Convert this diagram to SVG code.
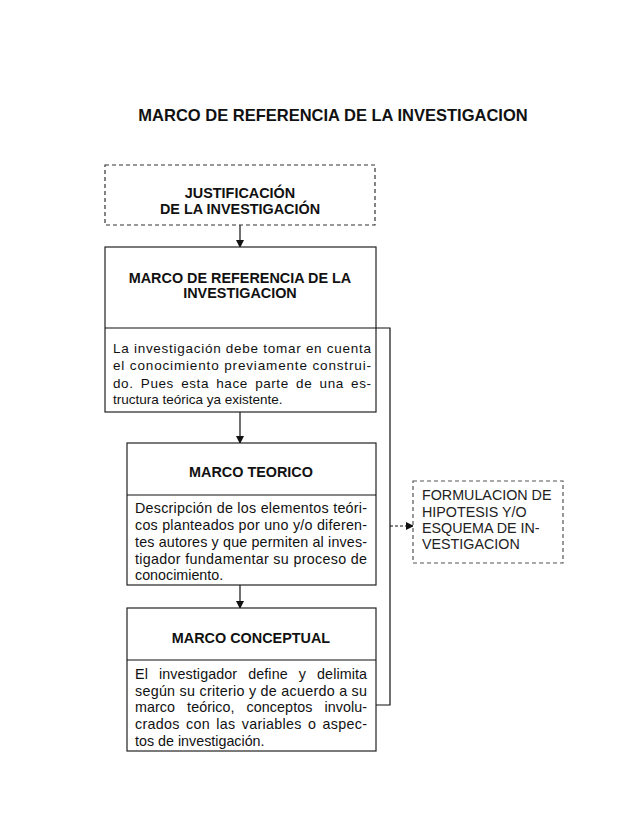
<svg xmlns="http://www.w3.org/2000/svg" width="638" height="826" viewBox="0 0 638 826">
<style>
.box{fill:#fff;stroke:#222;stroke-width:1.2}
.dash{fill:#fff;stroke:#333;stroke-width:1.2;stroke-dasharray:4 3}
.dash2{fill:#fff;stroke:#555;stroke-width:1.2;stroke-dasharray:4 3}
.h{font-family:"Liberation Sans",Arial,sans-serif;font-weight:bold;font-size:14.4px;fill:#111;text-anchor:middle}
.b{font-family:"Liberation Sans",Arial,sans-serif;font-size:13.5px;fill:#111}
.b2{font-family:"Liberation Sans",Arial,sans-serif;font-size:14.3px;fill:#111}
.f{font-family:"Liberation Sans",Arial,sans-serif;font-size:14.3px;fill:#222}
.t{font-family:"Liberation Sans",Arial,sans-serif;font-weight:bold;font-size:16.5px;fill:#111;text-anchor:middle}
.c{fill:none;stroke:#111;stroke-width:1.2}
</style>
<defs>
<marker id="ah" markerWidth="8" markerHeight="8" refX="7" refY="4" orient="auto" markerUnits="userSpaceOnUse">
<path d="M0,0 L8,4 L0,8 Z" fill="#111"/>
</marker>
</defs>
<rect width="638" height="826" fill="#fff"/>
<text class="t" x="333" y="121">MARCO DE REFERENCIA DE LA INVESTIGACION</text>

<g id="connectors">
<line class="c" x1="240" y1="225" x2="240" y2="247" marker-end="url(#ah)"/>
<line class="c" x1="240" y1="412" x2="240" y2="443" marker-end="url(#ah)"/>
<line class="c" x1="240" y1="585" x2="240" y2="608" marker-end="url(#ah)"/>
<polyline class="c" points="376,328 390,328 390,705 376,705"/>
<line class="c" x1="390" y1="526" x2="413" y2="526" stroke-dasharray="3 2" marker-end="url(#ah)"/>
</g>

<g id="justificacion">
<rect class="dash" x="105" y="165" width="270" height="60"/>
<text class="h" x="240" y="198">JUSTIFICACIÓN</text>
<text class="h" x="240" y="214">DE LA INVESTIGACIÓN</text>
</g>

<g id="marco-referencia">
<rect class="box" x="105" y="247" width="271" height="165"/>
<line class="c" x1="105" y1="328" x2="376" y2="328"/>
<text class="h" x="240" y="283">MARCO DE REFERENCIA DE LA</text>
<text class="h" x="240" y="298">INVESTIGACION</text>
<text class="b" x="113" y="353" textLength="258" lengthAdjust="spacing">La investigación debe tomar en cuenta</text>
<text class="b" x="113" y="370" textLength="258" lengthAdjust="spacing">el conocimiento previamente construi-</text>
<text class="b" x="113" y="388" textLength="258" lengthAdjust="spacing" word-spacing="3">do. Pues esta hace parte de una es-</text>
<text class="b" x="113" y="404">tructura teórica ya existente.</text>
</g>

<g id="marco-teorico">
<rect class="box" x="127" y="443" width="249" height="142"/>
<line class="c" x1="127" y1="495" x2="376" y2="495"/>
<text class="h" x="251" y="477">MARCO TEORICO</text>
<text class="b2" x="135" y="513" textLength="232" lengthAdjust="spacing">Descripción de los elementos teóri-</text>
<text class="b2" x="135" y="530" textLength="232" lengthAdjust="spacing">cos planteados por uno y/o diferen-</text>
<text class="b2" x="135" y="547" textLength="232" lengthAdjust="spacing">tes autores y que permiten al inves-</text>
<text class="b2" x="135" y="564" textLength="232" lengthAdjust="spacing">tigador fundamentar su proceso de</text>
<text class="b2" x="135" y="580">conocimiento.</text>
</g>

<g id="marco-conceptual">
<rect class="box" x="127" y="608" width="249" height="143"/>
<line class="c" x1="127" y1="660" x2="376" y2="660"/>
<text class="h" x="251" y="643">MARCO CONCEPTUAL</text>
<text class="b2" x="135" y="679" textLength="232" lengthAdjust="spacing" word-spacing="7">El investigador define y delimita</text>
<text class="b2" x="135" y="696" textLength="232" lengthAdjust="spacing">según su criterio y de acuerdo a su</text>
<text class="b2" x="135" y="712" textLength="232" lengthAdjust="spacing" word-spacing="8">marco teórico, conceptos involu-</text>
<text class="b2" x="135" y="729" textLength="232" lengthAdjust="spacing" word-spacing="2">crados con las variables o  aspec-</text>
<text class="b2" x="135" y="746">tos de investigación.</text>
</g>

<g id="formulacion">
<rect class="dash2" x="413" y="481" width="150" height="82"/>
<text class="f" x="422" y="500">FORMULACION DE</text>
<text class="f" x="422" y="517">HIPOTESIS Y/O</text>
<text class="f" x="422" y="533">ESQUEMA DE IN-</text>
<text class="f" x="422" y="549">VESTIGACION</text>
</g>
</svg>
